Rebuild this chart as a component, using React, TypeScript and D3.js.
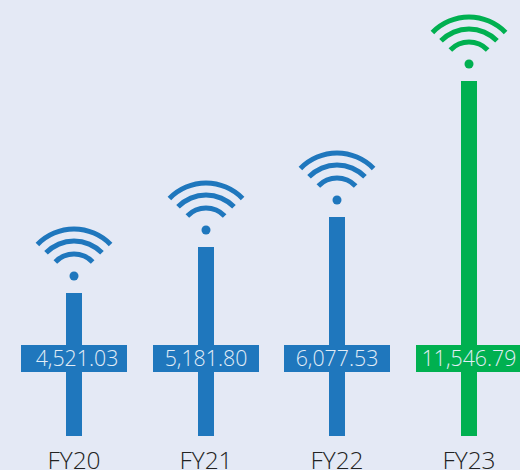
import * as d3 from 'd3'

const WIDTH = 520
const HEIGHT = 470
const BG = '#e4e9f5'
const FONT = '"Open Sans", sans-serif'

const categories = ['FY20', 'FY21', 'FY22', 'FY23']
const valueLabels = ['4,521.03', '5,181.80', '6,077.53', '11,546.79']
// the drawn bars are not proportional to the printed values, so lengths are read off the picture
const barLengths = [143, 189, 219, 355]
const barColors = ['#1f77bd', '#1f77bd', '#1f77bd', '#00b050']
const signalRadii = [26, 39, 51]

const x = d3.scaleBand().domain(categories).range([8.2, 534.9]).paddingInner(0).paddingOuter(0)
const y = d3.scaleLinear().domain([0, 355]).range([436, 81])

const arcGen = d3.arc<number>()
  .innerRadius((r) => r - 2.5)
  .outerRadius((r) => r + 2.5)
  .startAngle(-0.8)
  .endAngle(0.8)

export default function App() {
  return (
    <svg width={WIDTH} height={HEIGHT} style={{ position: 'fixed', left: 0, top: 0, background: BG, fontFamily: FONT }}>
      {categories.map((c, i) => {
        const cx = Math.round((x(c) as number) + x.bandwidth() / 2)
        const top = y(barLengths[i])
        const color = barColors[i]
        return (
          <g key={c}>
            <rect x={cx - 8} y={top} width={16} height={y(0) - top} fill={color} />
            <rect x={cx - 53} y={345} width={106} height={27} fill={color} />
            <text x={i === 0 ? cx + 3 : cx} y={366} textAnchor="middle" fontSize={21.3} fontWeight={300} fill="#e2edf7">
              {valueLabels[i]}
            </text>
            <circle cx={cx} cy={top - 17} r={4.5} fill={color} />
            {signalRadii.map((r) => (
              <path key={r} transform={`translate(${cx},${top - 13})`} d={arcGen(r) as string} fill={color} />
            ))}
            <text x={cx} y={469} textAnchor="middle" fontSize={24.5} fontWeight={300} fill="#222222">
              {c}
            </text>
          </g>
        )
      })}
    </svg>
  )
}
